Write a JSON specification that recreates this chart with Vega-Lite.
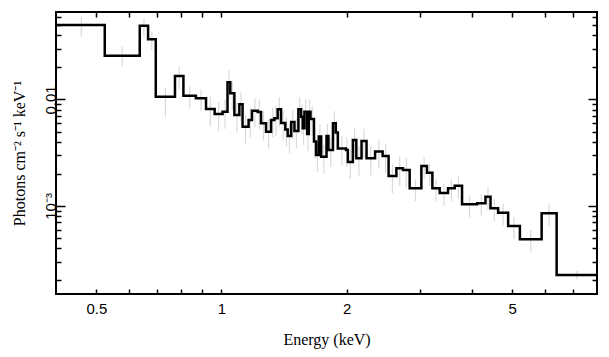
{
  "$schema": "https://vega.github.io/schema/vega-lite/v6.json",
  "width": 541,
  "height": 282,
  "autosize": {"type": "none"},
  "padding": {"left": 56, "top": 12, "right": 12, "bottom": 63},
  "background": "white",
  "view": {"stroke": "black", "strokeWidth": 2},
  "config": {
    "axis": {
      "labelFont": "Liberation Sans",
      "labelFontSize": 15,
      "labelColor": "black",
      "titleFont": "Liberation Serif",
      "titleFontSize": 16,
      "titleFontWeight": "normal",
      "titleColor": "black",
      "tickColor": "black",
      "tickWidth": 1.5,
      "domain": false,
      "grid": false
    }
  },
  "data": {"values": [
    {"lo": 0.4, "hi": 0.524, "ec": 0.46, "y": 0.0501, "ylo": 0.0389, "yhi": 0.0599},
    {"lo": 0.524, "hi": 0.636, "ec": 0.577, "y": 0.0258, "ylo": 0.0203, "yhi": 0.0313},
    {"lo": 0.636, "hi": 0.666, "ec": 0.651, "y": 0.0493, "ylo": 0.0389, "yhi": 0.0583},
    {"lo": 0.666, "hi": 0.695, "ec": 0.68, "y": 0.0367, "ylo": 0.0292, "yhi": 0.0433},
    {"lo": 0.695, "hi": 0.773, "ec": 0.733, "y": 0.01062, "ylo": 0.0069, "yhi": 0.01282},
    {"lo": 0.773, "hi": 0.81, "ec": 0.791, "y": 0.01663, "ylo": 0.0125, "yhi": 0.0205},
    {"lo": 0.81, "hi": 0.868, "ec": 0.839, "y": 0.01086, "ylo": 0.0082, "yhi": 0.0132},
    {"lo": 0.868, "hi": 0.918, "ec": 0.893, "y": 0.01026, "ylo": 0.00775, "yhi": 0.0125},
    {"lo": 0.918, "hi": 0.963, "ec": 0.94, "y": 0.00814, "ylo": 0.00562, "yhi": 0.01058},
    {"lo": 0.963, "hi": 1.006, "ec": 0.984, "y": 0.00731, "ylo": 0.00504, "yhi": 0.0095},
    {"lo": 1.006, "hi": 1.034, "ec": 1.02, "y": 0.00768, "ylo": 0.0053, "yhi": 0.00998},
    {"lo": 1.034, "hi": 1.05, "ec": 1.042, "y": 0.01451, "ylo": 0.01001, "yhi": 0.01886},
    {"lo": 1.05, "hi": 1.074, "ec": 1.062, "y": 0.01144, "ylo": 0.00789, "yhi": 0.01487},
    {"lo": 1.074, "hi": 1.104, "ec": 1.089, "y": 0.00715, "ylo": 0.00493, "yhi": 0.0093},
    {"lo": 1.104, "hi": 1.124, "ec": 1.114, "y": 0.00901, "ylo": 0.00622, "yhi": 0.01171},
    {"lo": 1.124, "hi": 1.162, "ec": 1.143, "y": 0.00555, "ylo": 0.00383, "yhi": 0.00722},
    {"lo": 1.162, "hi": 1.184, "ec": 1.173, "y": 0.00642, "ylo": 0.00443, "yhi": 0.00835},
    {"lo": 1.184, "hi": 1.222, "ec": 1.203, "y": 0.00785, "ylo": 0.00542, "yhi": 0.0102},
    {"lo": 1.222, "hi": 1.245, "ec": 1.233, "y": 0.00763, "ylo": 0.00526, "yhi": 0.00992},
    {"lo": 1.245, "hi": 1.28, "ec": 1.262, "y": 0.00598, "ylo": 0.00413, "yhi": 0.00777},
    {"lo": 1.28, "hi": 1.316, "ec": 1.298, "y": 0.00498, "ylo": 0.00344, "yhi": 0.00647},
    {"lo": 1.316, "hi": 1.34, "ec": 1.328, "y": 0.00642, "ylo": 0.00443, "yhi": 0.00835},
    {"lo": 1.34, "hi": 1.365, "ec": 1.352, "y": 0.00666, "ylo": 0.0046, "yhi": 0.00866},
    {"lo": 1.365, "hi": 1.391, "ec": 1.378, "y": 0.00809, "ylo": 0.00558, "yhi": 0.01052},
    {"lo": 1.391, "hi": 1.424, "ec": 1.407, "y": 0.00602, "ylo": 0.00415, "yhi": 0.00783},
    {"lo": 1.424, "hi": 1.443, "ec": 1.433, "y": 0.00523, "ylo": 0.00361, "yhi": 0.0068},
    {"lo": 1.443, "hi": 1.471, "ec": 1.457, "y": 0.00454, "ylo": 0.00313, "yhi": 0.0059},
    {"lo": 1.471, "hi": 1.498, "ec": 1.484, "y": 0.00615, "ylo": 0.00424, "yhi": 0.008},
    {"lo": 1.498, "hi": 1.531, "ec": 1.514, "y": 0.00506, "ylo": 0.00349, "yhi": 0.00658},
    {"lo": 1.531, "hi": 1.554, "ec": 1.542, "y": 0.00809, "ylo": 0.00558, "yhi": 0.01052},
    {"lo": 1.554, "hi": 1.568, "ec": 1.561, "y": 0.00689, "ylo": 0.00475, "yhi": 0.00896},
    {"lo": 1.568, "hi": 1.583, "ec": 1.575, "y": 0.00537, "ylo": 0.00371, "yhi": 0.00698},
    {"lo": 1.583, "hi": 1.607, "ec": 1.595, "y": 0.00768, "ylo": 0.0053, "yhi": 0.00998},
    {"lo": 1.607, "hi": 1.622, "ec": 1.614, "y": 0.00474, "ylo": 0.00327, "yhi": 0.00616},
    {"lo": 1.622, "hi": 1.637, "ec": 1.629, "y": 0.00768, "ylo": 0.0053, "yhi": 0.00998},
    {"lo": 1.637, "hi": 1.669, "ec": 1.653, "y": 0.00656, "ylo": 0.00453, "yhi": 0.00853},
    {"lo": 1.669, "hi": 1.688, "ec": 1.678, "y": 0.00402, "ylo": 0.00277, "yhi": 0.00523},
    {"lo": 1.688, "hi": 1.714, "ec": 1.701, "y": 0.00301, "ylo": 0.00208, "yhi": 0.00391},
    {"lo": 1.714, "hi": 1.737, "ec": 1.725, "y": 0.00449, "ylo": 0.0031, "yhi": 0.00584},
    {"lo": 1.737, "hi": 1.789, "ec": 1.763, "y": 0.0029, "ylo": 0.002, "yhi": 0.00377},
    {"lo": 1.789, "hi": 1.808, "ec": 1.798, "y": 0.00454, "ylo": 0.00313, "yhi": 0.0059},
    {"lo": 1.808, "hi": 1.854, "ec": 1.831, "y": 0.00336, "ylo": 0.00232, "yhi": 0.00437},
    {"lo": 1.854, "hi": 1.883, "ec": 1.868, "y": 0.00598, "ylo": 0.00413, "yhi": 0.00777},
    {"lo": 1.883, "hi": 1.905, "ec": 1.894, "y": 0.0049, "ylo": 0.00338, "yhi": 0.00637},
    {"lo": 1.905, "hi": 1.993, "ec": 1.948, "y": 0.00347, "ylo": 0.00239, "yhi": 0.00451},
    {"lo": 1.993, "hi": 2.013, "ec": 2.003, "y": 0.00336, "ylo": 0.00232, "yhi": 0.00437},
    {"lo": 2.013, "hi": 2.07, "ec": 2.041, "y": 0.00259, "ylo": 0.00179, "yhi": 0.00337},
    {"lo": 2.07, "hi": 2.11, "ec": 2.09, "y": 0.00417, "ylo": 0.00288, "yhi": 0.00542},
    {"lo": 2.11, "hi": 2.172, "ec": 2.141, "y": 0.0028, "ylo": 0.00193, "yhi": 0.00364},
    {"lo": 2.172, "hi": 2.233, "ec": 2.202, "y": 0.00408, "ylo": 0.00282, "yhi": 0.0053},
    {"lo": 2.233, "hi": 2.341, "ec": 2.286, "y": 0.0028, "ylo": 0.00193, "yhi": 0.00364},
    {"lo": 2.341, "hi": 2.441, "ec": 2.39, "y": 0.00324, "ylo": 0.00224, "yhi": 0.00421},
    {"lo": 2.441, "hi": 2.523, "ec": 2.482, "y": 0.00295, "ylo": 0.00204, "yhi": 0.00384},
    {"lo": 2.523, "hi": 2.634, "ec": 2.578, "y": 0.00191, "ylo": 0.00132, "yhi": 0.00248},
    {"lo": 2.634, "hi": 2.732, "ec": 2.683, "y": 0.00226, "ylo": 0.00156, "yhi": 0.00294},
    {"lo": 2.732, "hi": 2.835, "ec": 2.783, "y": 0.00218, "ylo": 0.0015, "yhi": 0.00283},
    {"lo": 2.835, "hi": 3.025, "ec": 2.928, "y": 0.001466, "ylo": 0.00111, "yhi": 0.00178},
    {"lo": 3.025, "hi": 3.12, "ec": 3.072, "y": 0.00237, "ylo": 0.00179, "yhi": 0.00288},
    {"lo": 3.12, "hi": 3.215, "ec": 3.167, "y": 0.00205, "ylo": 0.00155, "yhi": 0.00249},
    {"lo": 3.215, "hi": 3.348, "ec": 3.281, "y": 0.001466, "ylo": 0.00111, "yhi": 0.00178},
    {"lo": 3.348, "hi": 3.506, "ec": 3.426, "y": 0.001324, "ylo": 0.001, "yhi": 0.00161},
    {"lo": 3.506, "hi": 3.639, "ec": 3.572, "y": 0.001466, "ylo": 0.00111, "yhi": 0.00178},
    {"lo": 3.639, "hi": 3.789, "ec": 3.713, "y": 0.00155, "ylo": 0.00117, "yhi": 0.00188},
    {"lo": 3.789, "hi": 4.12, "ec": 3.951, "y": 0.001037, "ylo": 0.000783, "yhi": 0.00126},
    {"lo": 4.12, "hi": 4.314, "ec": 4.216, "y": 0.00106, "ylo": 0.0008, "yhi": 0.00129},
    {"lo": 4.314, "hi": 4.436, "ec": 4.375, "y": 0.001223, "ylo": 0.000923, "yhi": 0.00149},
    {"lo": 4.436, "hi": 4.627, "ec": 4.53, "y": 0.000951, "ylo": 0.000718, "yhi": 0.001155},
    {"lo": 4.627, "hi": 4.891, "ec": 4.757, "y": 0.000865, "ylo": 0.000653, "yhi": 0.00105},
    {"lo": 4.891, "hi": 5.22, "ec": 5.053, "y": 0.000649, "ylo": 0.00049, "yhi": 0.000789},
    {"lo": 5.22, "hi": 5.888, "ec": 5.544, "y": 0.000487, "ylo": 0.000368, "yhi": 0.000592},
    {"lo": 5.888, "hi": 6.398, "ec": 6.138, "y": 0.000854, "ylo": 0.000645, "yhi": 0.00104},
    {"lo": 6.398, "hi": 8.0, "ec": 7.155, "y": 0.000225, "ylo": 0.000205, "yhi": 0.000245}
  ]},
  "resolve": {"axis": {"x": "independent", "y": "independent"}},
  "layer": [
    {
      "mark": {"type": "rule", "color": "#dadada", "strokeWidth": 1.2, "clip": true},
      "encoding": {
        "x": {
          "field": "ec", "type": "quantitative",
          "scale": {"type": "log", "domain": [0.4, 8], "nice": false, "zero": false},
          "axis": {
            "orient": "bottom",
            "title": "Energy (keV)",
            "titlePadding": 15,
            "values": [0.5, 0.6, 0.7, 0.8, 0.9, 1, 2, 3, 4, 5, 6, 7],
            "labelExpr": "indexof([0.5,1,2,5], datum.value) >= 0 ? datum.label : ''",
            "format": "~g",
            "tickSize": -5,
            "labelPadding": 12,
            "labelFlush": false,
            "labelOverlap": false
          }
        },
        "y": {
          "field": "ylo", "type": "quantitative",
          "scale": {"type": "log", "domain": [0.000149, 0.0663], "nice": false, "zero": false},
          "axis": {
            "orient": "left",
            "title": "Photons cm⁻² s⁻¹ keV⁻¹",
            "titlePadding": 12,
            "values": [0.0002, 0.0003, 0.0004, 0.0005, 0.0006, 0.0007, 0.0008, 0.0009, 0.001, 0.002, 0.003, 0.004, 0.005, 0.006, 0.007, 0.008, 0.009, 0.01, 0.02, 0.03, 0.04, 0.05, 0.06],
            "labelExpr": "datum.value == 0.01 ? '0.01' : (datum.value == 0.001 ? '10⁻³' : '')",
            "labelAngle": -90,
            "labelAlign": "center",
            "labelBaseline": "bottom",
            "labelPadding": 7,
            "labelOverlap": false,
            "labelFlush": false,
            "tickSize": {"condition": {"test": "datum.value == 0.01 || datum.value == 0.001", "value": -9}, "value": -5}
          }
        },
        "y2": {"field": "yhi"}
      }
    },
    {
      "transform": [{"fold": ["lo", "hi"], "as": ["edge", "e"]}],
      "mark": {"type": "line", "color": "black", "strokeWidth": 2.5, "clip": true, "interpolate": "linear"},
      "encoding": {
        "x": {
          "field": "e", "type": "quantitative",
          "axis": {
            "orient": "top",
            "title": null,
            "values": [0.5, 0.6, 0.7, 0.8, 0.9, 1, 2, 3, 4, 5, 6, 7],
            "labels": false,
            "tickSize": -5
          }
        },
        "y": {
          "field": "y", "type": "quantitative",
          "axis": {
            "orient": "right",
            "title": null,
            "values": [0.0002, 0.0003, 0.0004, 0.0005, 0.0006, 0.0007, 0.0008, 0.0009, 0.001, 0.002, 0.003, 0.004, 0.005, 0.006, 0.007, 0.008, 0.009, 0.01, 0.02, 0.03, 0.04, 0.05, 0.06],
            "labels": false,
            "tickSize": {"condition": {"test": "datum.value == 0.01 || datum.value == 0.001", "value": -9}, "value": -5}
          }
        },
        "order": [{"field": "e", "type": "quantitative"}, {"field": "edge", "type": "ordinal"}]
      }
    }
  ]
}
